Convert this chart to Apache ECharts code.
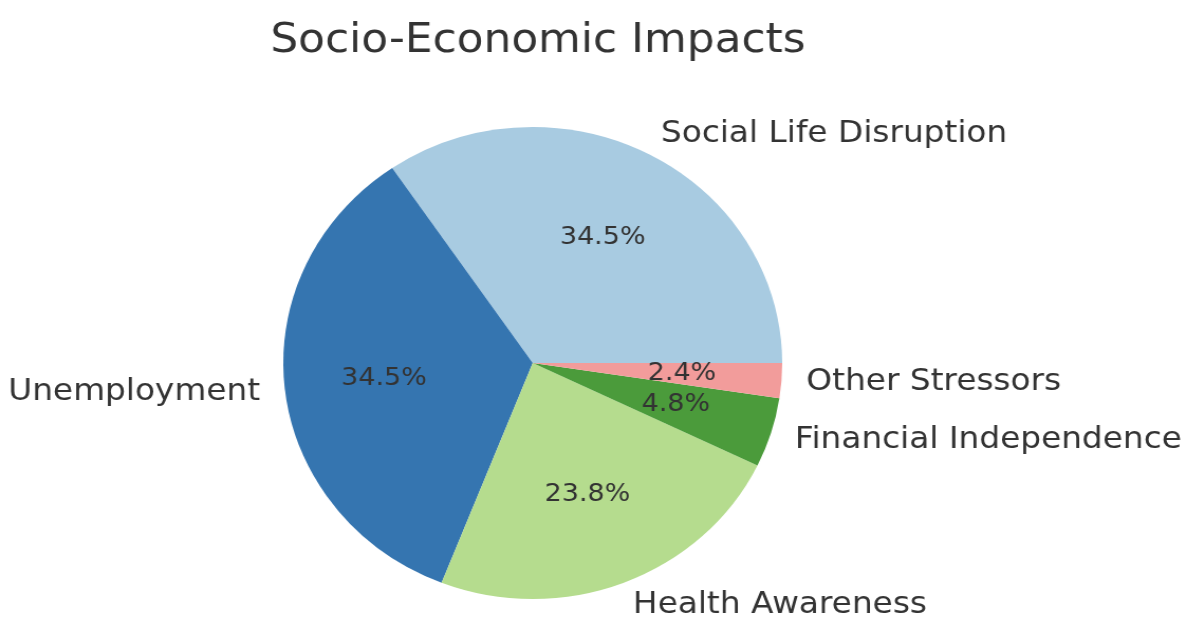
<!DOCTYPE html>
<html>
<head>
    <meta charset="utf-8">
    <title>Socio-Economic Impacts</title>
    <script src="https://cdn.jsdelivr.net/npm/echarts@6/dist/echarts.min.js"></script>
    <style>
        body, html { margin: 0; padding: 0; width: 100%; height: 100%; overflow: hidden; background: #fff; }
        /* the reference picture is stretched a little horizontally */
        #main { width: 1121px; height: 619px; transform: scaleX(1.057); transform-origin: 0 0; }
    </style>
</head>
<body>
    <div id="main"></div>
    <script type="text/javascript">
        // data
        var categories = ['Social Life Disruption', 'Unemployment', 'Health Awareness', 'Financial Independence', 'Other Stressors'];
        var counts = [29, 29, 20, 4, 2];
        var colors = ['#a8cbe1', '#3575b0', '#b5dc8e', '#4b9b3b', '#f29c9b'];

        var R = 236;
        var center = [504, 363];

        var pieData = categories.map(function (name, i) {
            return { name: name, value: counts[i], itemStyle: { color: colors[i] } };
        });
        var labelData = categories.map(function (name, i) {
            return { name: name, value: counts[i] };
        });

        var myChart = echarts.init(document.getElementById('main'));
        myChart.setOption({
            animation: false,
            title: {
                text: 'Socio-Economic Impacts',
                left: center[0],
                top: 15,
                textAlign: 'center',
                textStyle: { fontFamily: 'DejaVu Sans', fontSize: 41.5, fontWeight: 'normal', color: '#333' }
            },
            series: [
                {
                    // slices with outer category labels at 1.1 R
                    type: 'pie',
                    center: center,
                    radius: [0, R],
                    startAngle: 0,
                    clockwise: false,
                    avoidLabelOverlap: false,
                    silent: true,
                    data: pieData,
                    label: {
                        show: true,
                        position: 'outside',
                        formatter: '{b}',
                        distanceToLabelLine: 0,
                        fontFamily: 'DejaVu Sans',
                        fontSize: 31,
                        color: '#333'
                    },
                    labelLine: { show: false, length: R * 0.1, length2: 0 }
                },
                {
                    // transparent copy used only to place percentages at 0.6 R
                    type: 'pie',
                    center: center,
                    radius: [0, R * 1.2 - 6],
                    startAngle: 0,
                    clockwise: false,
                    avoidLabelOverlap: false,
                    silent: true,
                    percentPrecision: 1,
                    data: labelData,
                    itemStyle: { color: 'rgba(0,0,0,0)' },
                    label: {
                        show: true,
                        position: 'inside',
                        formatter: '{d}%',
                        fontFamily: 'DejaVu Sans',
                        fontSize: 25.5,
                        color: '#333'
                    },
                    labelLine: { show: false }
                }
            ]
        });
    </script>
</body>
</html>
